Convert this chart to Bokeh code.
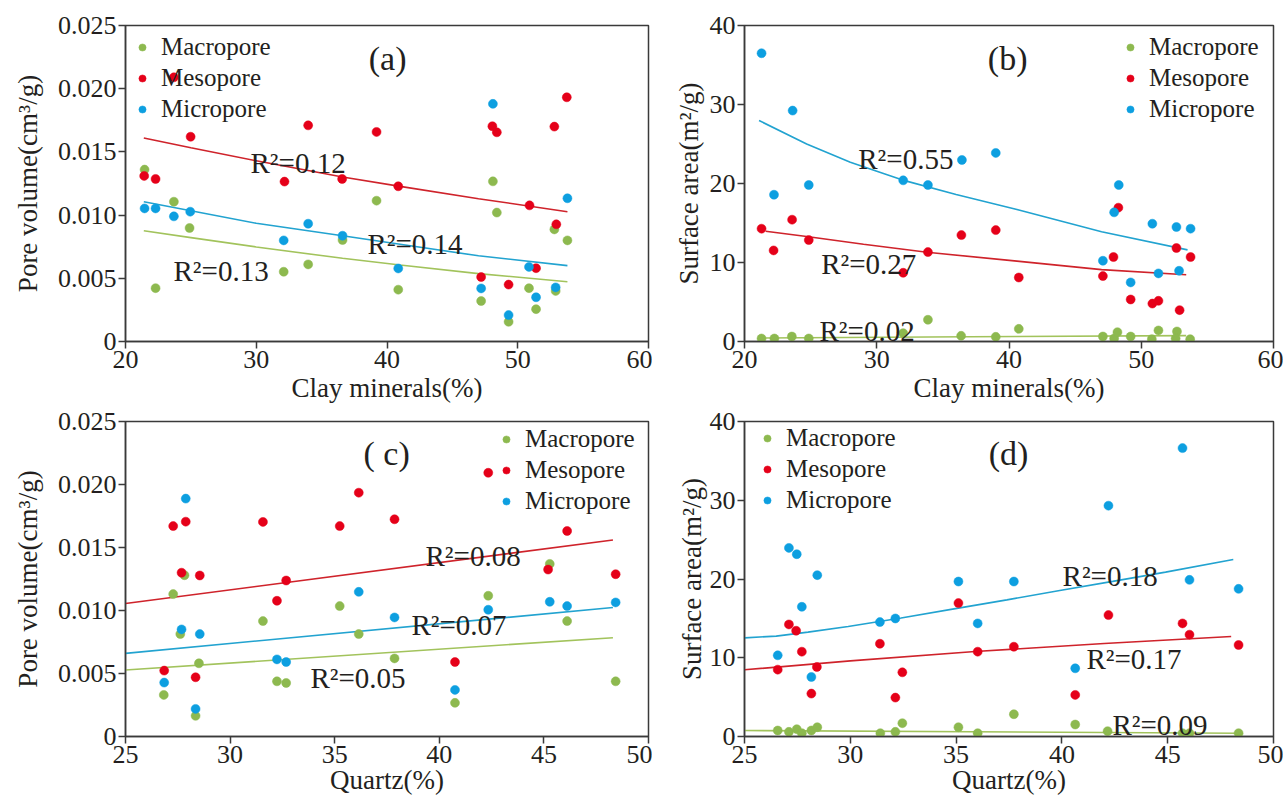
from bokeh.plotting import figure
from bokeh.layouts import column, row
from bokeh.models import (Legend, LegendItem, Label, FixedTicker,
                          CustomJSTickFormatter, Range1d)
from bokeh.embed import file_html
from bokeh.resources import INLINE

FONT = "Liberation Serif"
TXT = "#231f20"
GREEN = "#8db94f"
RED = "#e50019"
BLUE = "#0d9fe0"
GREEN_L = "#a2c35c"
RED_L = "#cf232b"
BLUE_L = "#22a3d0"

SERIES = ["Macropore", "Mesopore", "Micropore"]

# ---------------- (a) pore volume vs clay minerals ----------------
a_macro_x = [21.46, 22.3, 23.7, 24.9, 32.1, 33.97, 36.6, 39.2, 40.86, 47.2, 48.1, 48.4, 49.3, 50.86, 51.4, 52.8, 52.9, 53.8]
a_macro_y = [0.0136, 0.00422, 0.01106, 0.00898, 0.00552, 0.0061, 0.00803, 0.01114, 0.0041, 0.0032, 0.01267, 0.0102, 0.00156, 0.00422, 0.00256, 0.00887, 0.004, 0.008]
a_meso_x = [21.43, 22.3, 23.7, 24.98, 32.16, 33.97, 36.57, 39.2, 40.86, 47.2, 48.06, 48.4, 49.3, 50.9, 51.4, 52.8, 52.95, 53.75]
a_meso_y = [0.0131, 0.01286, 0.0209, 0.0162, 0.01265, 0.0171, 0.01286, 0.01658, 0.01228, 0.0051, 0.01703, 0.01655, 0.0045, 0.01077, 0.0058, 0.017, 0.00927, 0.01932]
a_micro_x = [21.46, 22.3, 23.7, 24.95, 32.1, 33.97, 36.6, 40.86, 47.2, 48.1, 49.3, 50.86, 51.4, 52.9, 53.8]
a_micro_y = [0.01053, 0.01053, 0.0099, 0.01027, 0.008, 0.00932, 0.00837, 0.00578, 0.0042, 0.0188, 0.00209, 0.0059, 0.0035, 0.00428, 0.01133]
a_fit_x = [21.4, 25, 30, 36.6, 41, 47, 53.8]
a_fit_macro = [0.00876, 0.00822, 0.00748, 0.00658, 0.00605, 0.00537, 0.00473]
a_fit_meso = [0.0161, 0.01533, 0.0143, 0.01302, 0.01227, 0.0113, 0.01027]
a_fit_micro = [0.01106, 0.01035, 0.00935, 0.00837, 0.0077, 0.00678, 0.006]
a_r2 = ["R²=0.13", "R²=0.12", "R²=0.14"]

# ---------------- (b) surface area vs clay minerals ----------------
b_macro_x = [21.29, 22.26, 23.58, 24.86, 32.0, 33.87, 36.38, 39.0, 40.74, 47.1, 47.95, 48.2, 49.2, 50.8, 51.3, 52.7, 52.6, 53.7]
b_macro_y = [0.38, 0.38, 0.63, 0.38, 1.06, 2.75, 0.72, 0.59, 1.6, 0.63, 0.38, 1.18, 0.63, 0.3, 1.4, 1.27, 0.38, 0.3]
b_meso_x = [21.29, 22.2, 23.6, 24.86, 32.0, 33.87, 36.4, 39.0, 40.74, 47.1, 47.9, 48.27, 49.2, 50.84, 51.3, 52.66, 52.9, 53.73]
b_meso_y = [14.28, 11.53, 15.42, 12.84, 8.7, 11.32, 13.47, 14.1, 8.1, 8.28, 10.69, 16.94, 5.32, 4.8, 5.15, 11.83, 3.97, 10.69]
b_micro_x = [21.29, 22.23, 23.64, 24.86, 32.0, 33.87, 36.44, 39.0, 47.1, 47.95, 48.3, 49.2, 50.84, 51.3, 52.66, 52.86, 53.73]
b_micro_y = [36.49, 18.58, 29.23, 19.81, 20.4, 19.81, 22.98, 23.87, 10.22, 16.35, 19.81, 7.48, 14.91, 8.62, 14.49, 8.95, 14.28]
b_fit_macro_x = [21.1, 37.0, 53.4]
b_fit_macro = [0.45, 0.6, 0.75]
b_fit_meso_x = [21.6, 24.7, 29.0, 33.8, 40.6, 47.0, 53.4]
b_fit_meso = [13.96, 13.29, 12.3, 11.3, 10.17, 9.1, 8.44]
b_fit_micro_x = [21.1, 24.7, 28.0, 31.9, 36.0, 40.6, 47.0, 53.5]
b_fit_micro = [27.97, 25.0, 22.7, 20.46, 18.6, 16.7, 13.9, 11.6]
b_r2 = ["R²=0.02", "R²=0.27", "R²=0.55"]

# ---------------- (c) pore volume vs quartz ----------------
c_macro_x = [26.83, 27.28, 27.62, 27.82, 28.35, 28.51, 31.57, 32.24, 32.68, 35.24, 36.15, 37.86, 40.75, 42.34, 45.28, 46.11, 48.43]
c_macro_y = [0.0033, 0.0113, 0.00813, 0.0128, 0.00164, 0.00581, 0.00916, 0.00438, 0.00425, 0.01035, 0.00813, 0.0062, 0.00267, 0.01117, 0.0137, 0.00916, 0.00438]
c_meso_x = [26.85, 27.28, 27.68, 27.88, 28.35, 28.55, 31.57, 32.24, 32.68, 35.24, 36.15, 37.86, 40.75, 42.34, 45.2, 46.11, 48.43]
c_meso_y = [0.00523, 0.0167, 0.013, 0.01705, 0.0047, 0.01278, 0.01703, 0.01077, 0.01238, 0.0167, 0.01935, 0.01724, 0.00591, 0.02093, 0.01325, 0.01631, 0.01288]
c_micro_x = [26.85, 27.68, 27.88, 28.35, 28.55, 32.24, 32.68, 36.15, 37.86, 40.75, 42.34, 45.28, 46.11, 48.43]
c_micro_y = [0.00428, 0.0085, 0.01888, 0.00219, 0.00813, 0.00612, 0.00591, 0.01148, 0.00945, 0.0037, 0.01006, 0.01069, 0.01035, 0.01064]
c_fit_x = [25.0, 48.3]
c_fit_macro = [0.00528, 0.00784]
c_fit_meso = [0.01056, 0.0156]
c_fit_micro = [0.0066, 0.01024]
c_r2 = ["R²=0.05", "R²=0.08", "R²=0.07"]

# ---------------- (d) surface area vs quartz ----------------
d_macro_x = [26.57, 27.1, 27.47, 27.71, 28.16, 28.44, 31.42, 32.13, 32.46, 35.11, 36.02, 37.73, 40.63, 42.16, 45.7, 46.03, 48.35]
d_macro_y = [0.76, 0.59, 0.93, 0.42, 0.76, 1.18, 0.42, 0.59, 1.69, 1.18, 0.42, 2.83, 1.52, 0.68, 0.42, 0.42, 0.42]
d_meso_x = [26.57, 27.1, 27.44, 27.71, 28.16, 28.42, 31.4, 32.13, 32.46, 35.11, 36.02, 37.73, 40.63, 42.2, 45.7, 46.03, 48.35]
d_meso_y = [8.49, 14.23, 13.43, 10.77, 5.45, 8.83, 11.78, 4.94, 8.15, 16.94, 10.77, 11.4, 5.28, 15.42, 14.36, 12.93, 11.62]
d_micro_x = [26.57, 27.1, 27.47, 27.71, 28.16, 28.44, 31.4, 32.13, 35.11, 36.02, 37.73, 40.63, 42.2, 45.7, 46.03, 48.35]
d_micro_y = [10.31, 23.95, 23.15, 16.47, 7.56, 20.49, 14.53, 14.99, 19.68, 14.36, 19.68, 8.66, 29.31, 36.62, 19.89, 18.75]
d_fit_macro_x = [25.0, 48.3]
d_fit_macro = [0.76, 0.42]
d_fit_meso_x = [25.0, 30.0, 35.9, 42.0, 48.0]
d_fit_meso = [8.47, 9.6, 10.79, 11.8, 12.7]
d_fit_micro_x = [25.0, 26.5, 28.0, 29.9, 32.4, 34.9, 37.4, 39.9, 42.4, 44.9, 48.1]
d_fit_micro = [12.53, 12.75, 13.25, 13.97, 15.05, 16.21, 17.35, 18.54, 19.7, 20.87, 22.48]
d_r2 = ["R²=0.09", "R²=0.17", "R²=0.18"]

clay_ticks = [20, 30, 40, 50, 60]
quartz_ticks = [25, 30, 35, 40, 45, 50]
pv_ticks = [0, 0.005, 0.010, 0.015, 0.020, 0.025]
sa_ticks = [0, 10, 20, 30, 40]


def make_fig(width, height, xr, yr, xticks, yticks, xlabel, ylabel,
             ml, mr, mt, mb, ylab_standoff, xlab_standoff, pv=False):
    p = figure(width=width, height=height, x_range=Range1d(*xr), y_range=Range1d(*yr),
               output_backend="svg", toolbar_location=None,
               min_border_left=ml, min_border_right=mr,
               min_border_top=mt, min_border_bottom=mb)
    p.grid.visible = False
    p.background_fill_color = "white"
    p.border_fill_color = "white"
    p.outline_line_color = "#3a3a3a"
    p.outline_line_width = 1.5
    p.xaxis.ticker = FixedTicker(ticks=xticks)
    p.yaxis.ticker = FixedTicker(ticks=yticks)
    if pv:
        p.yaxis.formatter = CustomJSTickFormatter(
            code="return tick == 0 ? '0' : tick.toFixed(3);")
    p.xaxis.axis_label = xlabel
    p.yaxis.axis_label = ylabel
    for ax in (p.xaxis[0], p.yaxis[0]):
        ax.major_tick_in = 0
        ax.major_tick_out = 7
        ax.minor_tick_in = 0
        ax.minor_tick_out = 0
        ax.axis_line_color = "#3a3a3a"
        ax.axis_line_width = 1.5
        ax.major_tick_line_color = "#3a3a3a"
        ax.major_tick_line_width = 1.5
        ax.major_label_text_font = FONT
        ax.major_label_text_font_size = "26px"
        ax.major_label_text_color = TXT
        ax.axis_label_text_font = FONT
        ax.axis_label_text_font_style = "normal"
        ax.axis_label_text_font_size = "27px"
        ax.axis_label_text_color = TXT
        ax.major_label_standoff = 2
    p.xaxis.axis_label_standoff = xlab_standoff
    p.yaxis.axis_label_standoff = ylab_standoff
    return p


def add_series(p, xs, ys, fits, r2s, r2pos, tag, tagpos, legpos):
    colors = [GREEN, RED, BLUE]
    lcolors = [GREEN_L, RED_L, BLUE_L]
    for (fx, fy), lc in zip(fits, lcolors):
        p.line(fx, fy, line_color=lc, line_width=1.6)
    rends = []
    for x, y, c in zip(xs, ys, colors):
        rends.append(p.scatter(x, y, size=9, fill_color=c, line_color=c, line_width=0.5))
    for txt, (tx, ty) in zip(r2s, r2pos):
        p.add_layout(Label(x=tx, y=ty, text=txt, text_font=FONT, text_font_size="29px",
                           text_color=TXT, text_baseline="alphabetic", text_align="left"))
    p.add_layout(Label(x=tagpos[0], y=tagpos[1], text=tag, text_font=FONT,
                       text_font_size="34px", text_color=TXT,
                       text_baseline="middle", text_align="center"))
    leg = Legend(items=[LegendItem(label=s, renderers=[r]) for s, r in zip(SERIES, rends)],
                 location=legpos, orientation="vertical",
                 glyph_width=18, glyph_height=28, label_height=28,
                 label_standoff=10, spacing=3, padding=0, margin=0,
                 border_line_alpha=0, background_fill_alpha=0,
                 label_text_font=FONT, label_text_font_size="25px",
                 label_text_color=TXT)
    p.add_layout(leg)


pa = make_fig(652, 407, (20, 60), (0, 0.025), clay_ticks, pv_ticks,
              "Clay minerals(%)", "Pore volume(cm³/g)", 125, 4, 25, 66, 12, 2, pv=True)
add_series(pa, [a_macro_x, a_meso_x, a_micro_x], [a_macro_y, a_meso_y, a_micro_y],
           [(a_fit_x, a_fit_macro), (a_fit_x, a_fit_meso), (a_fit_x, a_fit_micro)],
           a_r2, [(23.67, 0.00554), (29.56, 0.01416), (38.5, 0.00775)],
           "(a)", (40.05, 0.0224), (8, 218))

pb = make_fig(631, 407, (20, 60), (0, 40), clay_ticks, sa_ticks,
              "Clay minerals(%)", "Surface area(m²/g)", 92, 10, 25, 66, 3, 2)
add_series(pb, [b_macro_x, b_meso_x, b_micro_x], [b_macro_y, b_meso_y, b_micro_y],
           [(b_fit_macro_x, b_fit_macro), (b_fit_meso_x, b_fit_meso), (b_fit_micro_x, b_fit_micro)],
           b_r2, [(25.67, 1.39), (25.8, 9.87), (28.6, 23.16)],
           "(b)", (39.9, 35.8), (377, 218))

pc = make_fig(652, 391, (25, 50), (0, 0.025), quartz_ticks, pv_ticks,
              "Quartz(%)", "Pore volume(cm³/g)", 125, 4, 14, 62, 12, -1, pv=True)
add_series(pc, [c_macro_x, c_meso_x, c_micro_x], [c_macro_y, c_meso_y, c_micro_y],
           [(c_fit_x, c_fit_macro), (c_fit_x, c_fit_meso), (c_fit_x, c_fit_micro)],
           c_r2, [(33.84, 0.00468), (39.34, 0.01429), (38.67, 0.00881)],
           "( c)", (37.48, 0.02246), (372, 221))

pd_ = make_fig(631, 391, (25, 50), (0, 40), quartz_ticks, sa_ticks,
               "Quartz(%)", "Surface area(m²/g)", 92, 10, 14, 62, 0, -1)
add_series(pd_, [d_macro_x, d_meso_x, d_micro_x], [d_macro_y, d_meso_y, d_micro_y],
           [(d_fit_macro_x, d_fit_macro), (d_fit_meso_x, d_fit_meso), (d_fit_micro_x, d_fit_micro)],
           d_r2, [(42.39, 1.4), (41.16, 9.9), (40.03, 20.44)],
           "(d)", (37.48, 35.9), (14, 222))

layout = column(row(pa, pb), row(pc, pd_))
open("out.html", "w").write(file_html(layout, INLINE))
